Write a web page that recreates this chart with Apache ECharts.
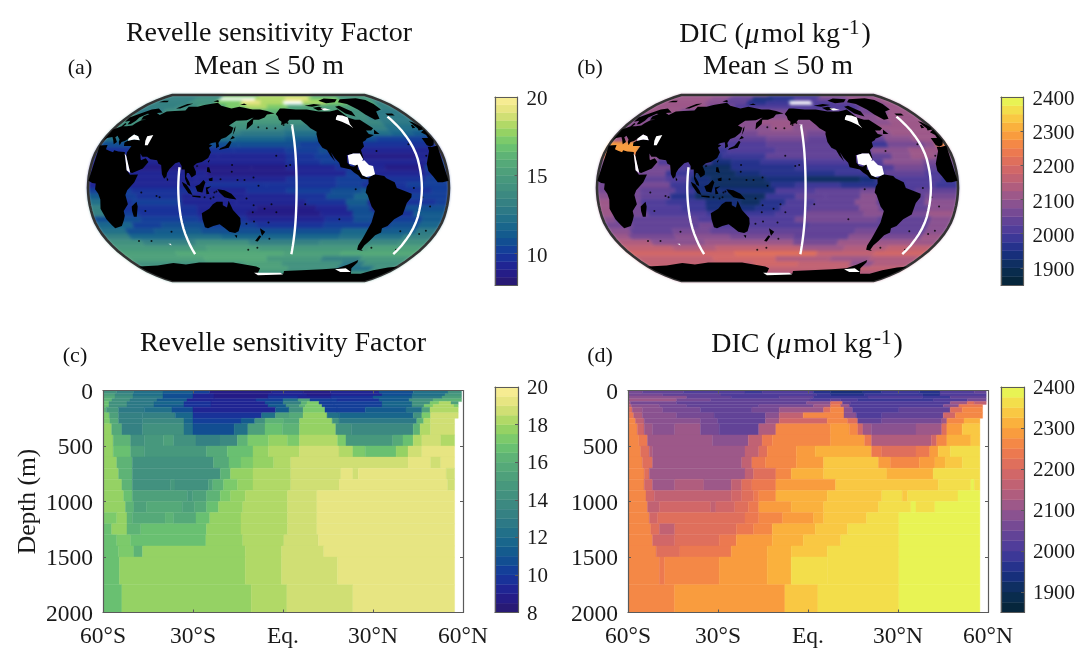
<!DOCTYPE html>
<html><head><meta charset="utf-8">
<style>html,body{margin:0;padding:0;background:#fff}#c{width:1076px;height:648px}</style>
<script src="https://cdn.jsdelivr.net/npm/echarts@6/dist/echarts.min.js"></script>
</head><body><div id="c"></div>
<script>
// ---------- DATA ----------
const latTicks = ['60°S','30°S','Eq.','30°N','60°N'];
const latTickValues = [-60,-30,0,30,60];
const depthTicks = [0,500,1000,1500,2000];
const revelleTicks = [10,15,20];
const revelleSectionTicks = [8,10,12,14,16,18,20];
const dicTicks = [1900,2000,2100,2200,2300,2400];
const depthLevels = [0,30,50,75,100,125,150,200,250,300,400,500,600,700,800,900,1000,1100,1200,1300,1400,1500,1750,2000];
// each row: latitude where a run ends, value of the run, ...
const revelleSection = [
[-55.4,14,-49.7,13,-40,12,-30,11,-24.4,10,-3.7,8.5,6.7,9,15.9,8.5,32,9,43.4,10.5,55,12,59.5,14],
[-56,15,-50,13.5,-40,12,-30,10.5,-23,9,-5,8.5,8,9,16,8.5,33,9,43,10.5,54,12,59.5,14.5],
[-56,15.5,-50,14,-40,12.5,-30,10.5,-23,9,-5,8.5,5,9.5,16,9,30,9.5,43,11,53,12.5,59.5,15],
[-57,16,-51,14,-42,12.5,-32,11,-24,9,-9,9,0,10,5,12,9,15,18,10,32,9.5,42,11,50,14,55,16,59.5,16],
[-58,16.5,-52,14,-43,12.5,-33,11.5,-24,9.5,-6,9,0,10.5,6,13,8,16,12,17,16,10,33,10,43,11.5,49,14,52,17,56,18,58.4,15],
[-58,16.5,-52,14,-43,12.5,-33,11,-24,9.5,-5,9,1,11,5.5,14,7.5,16,13,17,17,10,33,10,43,11.5,47,14,50,17,57,18,58.4,17],
[-58.9,16,-54.8,14.5,-46.2,12.5,-37,12,-30,10.5,-2.5,9,2,11,6.7,14,14,17,18,10,27.4,10,41,11,46.3,12,49,15,58.4,18],
[-57.9,17,-54.8,15,-46.8,13,-35.9,13,-30,11.5,-7.1,9.5,-2.5,12,2,15,6.7,15.5,14.7,17.5,18.7,12,43.4,11.5,46.3,14,49.2,17,58.4,18.5],
[-57.7,17,-54.8,15.5,-46.8,13,-33,13.5,-30,11.5,-14,10,-9.4,11,-6,14,0.3,16,5.5,15.5,16.4,17.5,18.7,14,44.6,12.5,46.9,16,49.2,18,57.2,18.5],
[-57.1,17.5,-53.7,15.5,-46.8,13,-33,14,-30,12,-16.3,10.5,-11.7,12,-6,15,-0.2,16.5,5.5,16,17.6,17.5,22.8,14,43.4,13.5,45.7,16,49.2,18,57.2,18.5],
[-56.6,17.5,-50.8,16,-46.2,14,-39.9,14.5,-36.4,15,-29,14,-21,13,-15.2,13.5,-11.7,16,-4.8,17,1.5,17.5,5.5,17,18.2,18,21,17,36.6,14.5,40,15.5,43.4,16.5,46.3,18,52.6,18.5,57.2,18],
[-56.6,17.5,-50.8,16.5,-46.2,15,-25.5,14.5,-18.6,15.5,-10,16.5,-4.8,17.5,5.5,18,18.7,18.5,23.3,18,27.4,17,37.7,16.5,41.7,17.5,46.3,18.5,57.2,19],
[-55.4,17.5,-50.2,16,-23.2,14,-18,15.5,-14,16.5,-10,17,-3.1,17.5,2.6,18,41.7,18.5,49.2,19,52.6,18.5,57.2,19],
[-54.8,17.5,-50.2,16,-20.9,14,-17.5,16,-10,17.5,2.6,18,19.3,18.5,23.3,19,25.1,18.5,54.4,19,57.2,18.5],
[-53.7,17.5,-50.2,16,-37.6,14,-36,14.5,-24.9,14,-23.4,15,-19.8,16,-15.2,17,-10,17.5,2.6,18,18.7,18.5,54.9,19,57.2,18.5],
[-53.1,17.5,-50.2,16.5,-31.8,15,-30.1,14.5,-25.5,15,-20.9,16,-17.5,17,-12.6,17.5,1.5,18,11.3,18.5,57.2,19],
[-52.5,17.5,-49.7,16,-45.6,15,-33.6,15.5,-29.5,15,-25.5,15.5,-21.5,16.5,-13.4,17.5,1.5,18,11.3,18.5,57.2,19],
[-55.4,17,-52,17.5,-50.2,16,-39.3,15.5,-36.4,16,-29,15.5,-24.4,16.5,-14,17.5,1.5,18,11.3,18.5,57.2,19],
[-57.1,16.5,-52,17.5,-47.4,16,-25.5,16.5,-14,17.5,1.5,18,11.3,18.5,57.2,19],
[-55.4,16.5,-50.8,17,-25.7,16.5,-13.4,17.5,0.3,18,11.8,18.5,57.2,19],
[-54.8,16.5,-49.7,17,-46.8,16,-12.6,17.5,-0.5,18,13.6,18.5,57.2,19],
[-54.5,16.5,-12.6,17.5,-0.5,18,18.2,18.5,57.2,19],
[-53.7,16.5,-10.6,17.5,1.3,18,23.3,18.5,57.2,19]
];
const dicSection = [
[-55.2,2075,-41.5,2050,-21,2025,-15.3,2000,1.8,2025,7.5,1975,18.3,1950,24.6,1975,37.1,2000,44,1975,55.4,2025,59.4,2050],
[-48.4,2075,-29,2050,2.9,2025,7.5,2000,18.9,1975,38.3,2000,44,1975,59.4,2025],
[-40.4,2100,-25.6,2050,-9.6,2025,1.8,2050,20,2000,38.3,2025,47.4,2000,59.4,2050],
[-43.8,2125,-32.4,2075,0.7,2050,7.5,2025,10.9,2050,16.6,2025,41.7,2000,53.1,2025,59.4,2075],
[-59.2,2150,-43.8,2075,-0.5,2050,7.5,2100,11.5,2225,14.3,2050,47.4,2025,53.1,2125,55.4,2225,59.4,2175],
[-58.9,2175,-49.5,2100,-40.4,2075,-16.4,2050,1.8,2075,7.5,2125,10.9,2250,13.8,2125,45.1,2025,50.3,2100,58.2,2250],
[-58.6,2225,-55.2,2125,-48.4,2100,-35.8,2075,-18.7,2050,-9.6,2075,5.2,2125,7.5,2225,12,2275,14.9,2100,30.3,2025,47.4,2050,51.4,2225,58.2,2275],
[-58.1,2250,-55.2,2150,-43.8,2100,-31.3,2075,-14.2,2050,-9.6,2100,-1.6,2175,12,2275,16.1,2100,24.6,2025,45.1,2050,49.1,2200,58.2,2275],
[-57.5,2275,-54.6,2175,-35.8,2100,-30.1,2075,-14.2,2050,-9.6,2125,6.4,2200,13.2,2275,16.6,2225,24.6,2050,44.6,2075,46.3,2125,52,2275,57.3,2325],
[-56.9,2275,-54.6,2200,-51.8,2125,-44.4,2100,-35.8,2125,-29.6,2075,-16.4,2050,-10.7,2150,7.5,2275,13.8,2300,16.6,2275,18.3,2200,21.2,2125,36,2100,44.6,2125,46.3,2225,51.4,2300,57.3,2350],
[-56.4,2275,-53.5,2250,-31.8,2125,-19.9,2100,-15.3,2175,-11.9,2250,7.5,2275,18.9,2300,21.2,2250,41.1,2150,42.9,2200,46.3,2275,54.3,2325,57.3,2350],
[-55.8,2275,-52.9,2225,-51.8,2150,-21,2125,-16.4,2175,-13.6,2225,-3.9,2275,2.4,2300,21.2,2325,24.6,2250,36,2225,40.6,2250,43.4,2300,47.4,2350,57.3,2375],
[-55.2,2275,-51.8,2225,-22.1,2125,-18.7,2175,-14.2,2250,-3.9,2275,5.2,2300,23.5,2350,27.5,2300,37.1,2275,42.3,2300,45.7,2325,51.4,2350,57.3,2375],
[-54.6,2275,-52.9,2225,-21,2125,-18.2,2175,-10.7,2225,-5.6,2275,5.2,2325,26.3,2350,41.7,2325,57.3,2375],
[-54.6,2275,-51.8,2200,-44.4,2125,-34.7,2150,-25.6,2125,-22.1,2175,-18.7,2225,-10.7,2250,9.2,2300,43.4,2350,54.3,2375,55.4,2400,57.3,2375],
[-54,2275,-51.2,2200,-25.6,2175,-22.1,2200,-18.2,2225,-16.4,2250,-10.7,2275,6.4,2325,24.6,2350,31.4,2375,33.2,2350,50,2375,57.3,2400],
[-53.5,2275,-49.5,2175,-32.4,2200,-30.7,2175,-24.4,2200,-19.9,2225,-16.4,2250,-5.6,2300,5.2,2325,23.5,2350,34.3,2375,36,2400,42.3,2375,57.3,2400],
[-52.9,2275,-50.1,2200,-21,2225,-16.4,2250,-8.5,2275,1.8,2300,5.2,2325,19.5,2350,30.3,2375,57.3,2400],
[-52.4,2275,-49.5,2225,-44.4,2175,-23.9,2225,-18.2,2250,-11.9,2275,2.4,2325,13.2,2350,30.3,2375,57.3,2400],
[-51.8,2275,-44.4,2200,-29.6,2225,-23.9,2250,-11.9,2300,-1.6,2325,10.9,2350,30.3,2375,57.3,2400],
[-50.6,2275,-42.7,2225,-25.6,2250,-13.6,2300,-5.6,2325,6.4,2350,30.3,2375,57.3,2400],
[-49.5,2275,-47.8,2250,-29.6,2275,-13.6,2300,-5.6,2325,6.4,2375,30.3,2375,57.3,2400],
[-44.5,2275,-7.7,2300,3.3,2350,30.3,2375,57.3,2400]
];
// surface maps: one row per 5 degree latitude band from 90N, each row: east end of a run (deg E, 2..362), value, ...
const mapBandTops = [90,85,80,75,70,65,60,55,50,45,40,35,30,25,20,15,10,5,0,-5,-10,-15,-20,-25,-30,-35,-40,-45,-50,-55,-60,-65,-70,-75,-80,-85];
const revelleSurface = [
[100,13,165,17,260,18,362,15],
[60,13,100,14,160,null,210,18,250,19,300,17,362,14],
[60,13,100,14,140,17,170,19,204,18,235,null,270,18,300,17,345,16,362,13],
[50,13,80,13.5,120,15,150,17,180,18,210,17,340,15,362,13],
[40,12.5,120,14,150,15,200,16,290,15,320,14,362,12.5],
[160,14,205,15,220,14,310,14,362,12.5],
[140,14,200,14.5,225,14,320,13.5,362,12.5],
[160,14,200,13.5,235,13,320,13,362,12],
[150,13,200,12.5,240,12,320,12,345,11.5,362,11],
[145,12,200,11.5,235,11,300,10.5,362,10],
[150,10.5,215,10.5,240,10,362,9.5],
[145,9.5,200,9.5,235,10,245,10.5,362,9],
[130,9,200,9,230,9.5,250,10,335,8.5,362,9],
[200,9,235,9.5,255,10,345,9,362,10],
[165,8.5,200,8.5,250,9,270,9.5,300,9,340,8.5,362,10],
[120,9,210,8.5,260,9,285,10,340,9,362,9.5],
[110,9,200,9,250,9.5,280,10,340,9.5,362,10],
[120,9,180,9.5,250,9.5,275,10,320,9.5,362,10],
[45,10,110,9.5,160,9,200,9.5,245,10,275,10.5,290,11,345,9.5,362,10],
[20,11,50,10,95,9.5,160,9,210,9,240,9.5,268,10.5,285,11.5,320,9.5,362,10],
[20,12,45,9.5,95,10,150,9,220,9,260,9.5,282,11,320,9,350,9.5,362,10],
[15,13,110,9.5,170,9,230,8.5,262,9,285,10.5,320,9,362,10.5],
[18,13,50,10,110,9.5,160,9,235,8.5,268,9,290,10.5,330,9.5,362,11],
[50,10.5,110,10,160,9.5,240,9,270,9.5,288,10.5,340,10,362,11],
[40,11.5,70,10,115,10.5,170,10,240,9.5,310,10,340,10.5,362,11.5],
[30,12,60,10.5,110,11,260,10.5,290,11.5,340,11,362,12.5],
[30,13,90,11.5,130,12,260,11.5,330,12,362,13],
[40,14,100,13,160,14,240,13,330,13.5,362,14],
[110,14.5,170,15,300,14.5,362,15],
[70,15,200,15.5,270,15,362,15.5],
[100,15,180,15.5,250,14.5,300,13,362,14.5],
[100,14,150,14.5,200,15,280,14,310,12.5,362,14],
[150,14,210,15,280,14,330,12,362,14],
[362,14],[362,14],[362,14]
];
const dicSurface = [
[100,2125,165,2075,260,2000,362,2100],
[70,2125,100,2100,140,2050,175,1950,210,1975,250,2025,300,2075,362,2125],
[70,2125,100,2100,135,2050,165,1975,200,2000,235,null,270,2025,300,2050,345,2100,362,2125],
[80,2125,120,2075,300,2025,340,2075,362,2125],
[50,2125,200,2075,290,2050,330,2075,362,2125],
[160,2075,205,2100,310,2100,362,2125],
[160,2100,205,2125,320,2100,362,2125],
[175,2100,200,2125,235,2100,362,2125],
[160,2075,215,2100,240,2075,310,2100,362,2125],
[30,2125,170,2050,215,2075,300,2050,330,2100,362,2125],
[37,2300,170,2025,240,2050,300,2000,340,2075,352,2100,362,2275],
[37,2300,130,2000,180,2025,250,2050,280,2025,320,2100,362,2125],
[37,2250,70,2100,125,1975,170,2000,300,2050,320,2100,345,2125,362,2100],
[60,2100,115,2025,135,1950,165,1975,210,2000,290,2025,330,2100,362,2075],
[80,2075,100,2025,135,1925,200,1975,265,2000,300,2025,330,2075,362,2050],
[70,2075,100,2000,140,1925,165,1950,240,1975,290,2000,330,2050,362,2025],
[70,2050,95,2025,115,1950,170,1925,210,1950,265,1925,280,1950,300,2000,345,2025,362,2000],
[75,2075,95,2000,115,1950,175,1925,200,1975,245,2000,300,1975,310,2000,340,2025,362,2000],
[45,2075,80,2050,100,2000,125,1950,180,1950,220,2025,265,2050,285,2075,320,2025,362,2050],
[20,2100,45,2075,75,2050,100,1975,170,1925,200,2000,230,2050,265,2050,282,2100,330,2050,362,2075],
[15,2125,45,2075,70,2025,110,2000,145,1950,165,1925,190,1975,220,2025,260,2050,282,2100,330,2050,362,2100],
[15,2125,45,2075,85,2025,110,2000,160,1950,185,1975,215,2025,265,2050,285,2100,335,2050,362,2100],
[15,2125,50,2075,110,2025,180,2000,210,2025,270,2075,290,2100,335,2075,362,2125],
[15,2100,100,2050,200,2025,285,2075,340,2050,362,2100],
[30,2075,100,2050,115,2075,215,2025,340,2050,362,2100],
[25,2100,70,2050,110,2075,265,2050,290,2075,340,2050,362,2100],
[20,2125,70,2075,130,2100,200,2075,260,2050,290,2100,340,2075,362,2125],
[40,2150,100,2100,200,2125,250,2075,362,2125],
[60,2175,110,2150,210,2175,260,2125,310,2150,362,2175],
[130,2200,230,2225,300,2175,362,2200],
[100,2175,180,2200,250,2150,300,2125,362,2150],
[150,2175,210,2200,280,2175,310,2100,362,2150],
[362,2175],[362,2150],[362,2150],[362,2150]
];
// land rings, longitudes in deg E from 2 to 362
const landRings = [
[[2,36.8],[10,37.3],[11,33.5],[15,32.3],[20,31],[20,32.8],[25,31.7],[32,31.2],[34,28],[37,21],[39,15.5],[43,11.5],[51,11.8],[48,5],[41,-2],[39,-6],[40.5,-14],[35,-20],[35,-24],[32.5,-28],[28,-33],[20,-34.8],[18,-32],[15,-27],[12,-18],[13.5,-10],[12,-5],[9,-1],[9.5,4],[6,4.3],[2,6.3]],
[[362,36.8],[355,35.5],[351,35.8],[350,32],[347,28],[343,21],[343,14.7],[347,10],[351,5],[356,5],[362,6.3]],
[[2,51],[8,54],[8,57],[11,56],[10,54],[14,54],[20,54.5],[21,57],[24,59.5],[30,60],[23,60],[21,63],[25,65.5],[22,65.8],[17.5,62],[18,59],[16,56],[13,55.5],[11,59],[6,58],[5,62],[12,66],[20,70],[28,71],[40,67],[33,66.5],[40,64.5],[44,68],[54,68.5],[68,69],[67,73],[73,73],[80,73],[87,75],[104,77.5],[113,74],[130,71],[140,73],[160,70],[170,70],[180,68.5],[190,66],[190,65],[180,65],[177,62],[170,60],[163,60],[163,56],[156.5,51],[156,57],[163,62],[155,59.5],[142,59],[135,54.5],[141,52.5],[140,48],[135,44],[130,42.5],[128,39],[129.5,36],[126.5,34.5],[126,37.5],[125,39.7],[121,39],[118,38],[122,37],[119,35],[122,31],[120,26],[114,22.5],[109,21.5],[106,19],[109,14],[109,11.5],[105,9],[102,13],[100,13],[99.5,10],[103,5],[104,1.5],[101,3],[98.5,8],[97.5,16],[94.5,16],[94,19],[91,22.5],[87,21.5],[82,16.5],[80,13],[79.8,10],[77.5,8],[75,12],[73,20],[70,21],[68,24],[61,25],[57,27],[52,27],[49,30],[50.5,26],[51.5,24],[56,25.8],[59.5,22.5],[55,17],[45,13],[43,13.5],[39,21],[35,28],[34.5,31],[36,36.5],[28,36.5],[26.5,39.5],[29,41],[35,42],[41.5,41.5],[37,45],[31,46.5],[28.5,43],[26,40.8],[23,40],[23,37],[20,40],[19,42],[13.5,45.5],[12.5,44],[16,41.5],[18,40],[16,38],[12,42],[9,44.3],[4,43.4],[3,42],[2,41.5]],
[[362,51],[355.5,48.5],[358.5,46],[358,43.5],[351,43.5],[351,37],[354,36],[358,37],[360,39],[362,41.5]],
[[354.5,50],[361,51],[362,53],[358,57.5],[355,58.5],[355,54.5],[356,52]],
[[350,52],[354,52.5],[354,55],[352,55]],
[[337,64],[346,64],[346,66],[337,66]],
[[315,60],[322,61],[328,68],[338,70],[340,76],[340,81],[330,83.5],[300,82],[290,78],[300,76],[306,70],[309,65]],
[[191.5,65.5],[198,71],[204,71],[220,70],[235,70],[250,68],[265,68],[272,69],[278,70],[282,64],[283,62],[290,60],[296,60],[304,52],[300,50],[294,50],[295,47],[300,46],[294.5,44],[290,43],[288,41.5],[284,40],[283.5,36],[279,33],[279.5,26],[279,25],[277.5,27],[277,30],[270,30],[263,28.5],[262.5,22],[265,19],[269,18.5],[270,21.5],[273,21.5],[272,16],[276,15],[276.5,11],[280.5,9],[283,8.5],[282,7.5],[280,7.5],[275,8],[272,11],[268,13.5],[265,16],[255,18],[254,22],[250,26],[247,31],[250,23],[246,28],[243.5,33],[239,35],[236,40],[236,47],[237,49],[231,52],[228,55],[222,60],[212,60],[208,60],[204,57],[197,55],[198,58],[195,60],[194,63]],
[[278,73],[285,74],[295,68],[294,63],[284,66]],
[[270,77],[285,78],[295,82],[275,83],[262,80]],
[[245,72],[255,73],[262,70],[250,69]],
[[235,74],[250,76],[260,75],[245,73]],
[[301,47],[307,47],[304,51]],
[[283,9],[288,12],[298,10.5],[300,8.5],[308,5],[310,0],[316,-2],[325,-5],[325,-8],[321,-13],[319,-23],[311.5,-27],[307,-33],[302,-35],[303,-38.5],[298,-41],[295,-46],[292,-50],[292,-54],[295,-55],[287,-54],[285,-50],[286,-44],[287,-38],[289,-30],[290,-20],[286,-16],[281,-6],[279,-4],[280,1],[282,4],[282,8]],
[[114,-22],[122,-18],[126,-14],[130,-12],[136,-12],[136,-15],[140,-17],[142,-11],[146,-19],[153,-26],[153,-31],[150,-37.5],[146,-39],[140,-38],[136,-35],[131,-31.5],[124,-33],[118,-35],[115,-34],[114,-27]],
[[145,-41],[148,-41],[147,-43.5]],
[[173,-35],[178.5,-38],[175,-41.5],[174,-39]],
[[172.5,-41],[174,-42],[170,-46.5],[167,-46],[171,-42]],
[[131,-1],[138,-2],[145,-5],[150,-10],[143,-9],[138,-8],[133,-4]],
[[109,1.5],[113,3],[117,7],[119,5],[117.5,1],[116,-4],[111,-3]],
[[95.5,5.5],[100,3],[104,-2],[106,-6],[102,-4.5],[97,2]],
[[105.5,-6.5],[114,-7],[114,-8.5],[106,-7.5]],
[[119.5,0.5],[125,1.5],[121,-1],[123,-5],[120,-5.5]],
[[120,18],[122,18],[124,13],[120,14]],
[[122,8],[126,9],[126,6],[123,6]],
[[120,23],[122,25],[121,22]],
[[130,33],[135,34],[140,35],[142,40],[140,41],[136,36.5],[131,34.5]],
[[140,42],[145,43.5],[142,45.5]],
[[142,46],[143.5,50],[143,54],[142,52]],
[[44,-16],[49.5,-12],[50,-16],[47,-25],[44,-25],[43.5,-20]],
[[80,9.5],[82,7],[80.5,6]],
[[109,20],[111,19],[109,18]],
[[12,78],[25,78],[22,80],[14,80]],
[[52,71],[58,71],[68,76.5],[60,76]],
[[95,79],[105,78],[100,81]],
[[140,75],[150,75],[145,76.5]],
[[2,-70],[30,-69],[55,-66.5],[70,-68],[90,-66],[110,-66],[135,-66],[165,-70],[170,-72],[165,-78],[205,-78],[205,-75],[230,-74],[260,-73],[280,-72],[290,-68],[298,-63.5],[300,-66],[300,-72],[310,-78],[325,-78],[335,-74],[350,-71],[362,-70],[362,-75],[362,-80],[362,-85],[362,-90],[2,-90],[2,-85],[2,-80],[2,-75]]
];
// areas without data
const noDataRings = [
[[266,60],[272,58],[278,55],[281,52],[280,56],[283,62],[278,64],[272,64.5],[268,62]],
[[264,21],[264,28.5],[270,30],[277,30],[279,25],[276,21.5],[270,19.5]],
[[272,22],[280,24],[284,20],[288,19],[289,12],[285,10.5],[280,9.5],[276,11],[274,15]],
[[28,43],[31,46.5],[37,45],[41.5,41.5],[35,42],[29,41]],
[[47,45],[53,46],[53,37],[50,37],[48,41]],
[[32.5,30],[35,28],[43,13],[39,15.5],[37,21],[34,27.5]],
[[160,-77],[200,-77],[205,-79],[165,-80]],
[[278,-73],[292,-72],[306,-76],[290,-76]],
[[68,-48.5],[71,-48.5],[70.5,-50]],
[[208,55.5],[212,55.5],[211,53.5]],
[[255,71],[262,71.5],[268,69.5],[258,69]]
];
const smallIslands = [[134,7.5],[145,14],[151,7],[158,7],[167,9],[172,2],[160,-9],[167,-15],[178,-18],[185,-14],[190,-21],[210,-17],[219,-14],[204,20],[200,19],[190,28],[145,20],[127,-8],[130,-3],[128,-4],[118,-8],[124,-9],[73,-8],[57,-20],[55,-4],[70,-7],[166,-21],[159,-31],[167,-29],[182,-30],[183,-44],[169,-52],[158,-54],[37,-46],[51,-46],[78,-38],[323,-37.5],[350,-37],[345,-40],[333,-54],[302,-52],[255,-27],[269,-1],[336,-8],[345,-16],[327,0],[335,16],[345,28],[332,38],[295,32],[190,52],[180,52],[170,53],[200,55],[205,57]];
const sectionLons = {I09:92, P16:210, A16:335};
const sectionLats = {I09:[18,15,10,5,0,-5,-10,-15,-20,-25,-30,-35,-40,-45,-50,-55,-58],
  P16:[54,50,45,40,35,30,25,20,15,10,5,0,-5,-10,-15,-20,-25,-30,-35,-40,-45,-50,-55,-58],
  A16:[63,60,55,50,45,40,35,30,25,20,15,10,5,0,-5,-10,-15,-20,-25,-30,-35,-40,-45,-50,-55,-58]};

// ---------- PALETTES ----------
const halineStops = ['#2a186c','#231f90','#15389c','#11558f','#1c6c8b','#327d84','#3f8d80','#4a9c7c','#58ad78','#6fc66e','#a2d660','#dfe27a','#fdef9a'];
const thermalPts = [[0,'#042333'],[.09,'#0b2f55'],[.18,'#1a2f86'],[.27,'#463a9c'],[.36,'#6a4696'],[.4545,'#94568e'],[.55,'#bb6078'],[.636,'#d96a62'],[.727,'#f27e4a'],[.818,'#fba63a'],[.909,'#f8d346'],[1,'#e3fd58']];
function lerp(stops,t){ return echarts.color.lerp(t,stops); }
function thermal(t){
  for(let i=1;i<thermalPts.length;i++){
    if(t<=thermalPts[i][0]){
      const a=thermalPts[i-1],b=thermalPts[i];
      return echarts.color.lerp((t-a[0])/(b[0]-a[0]),[a[1],b[1]]);
    }
  }
  return thermalPts[thermalPts.length-1][1];
}
const scales = {
  rev:{min:8,max:20,step:.5,off:.25,col:t=>lerp(halineStops,t)},
  dic:{min:1850,max:2400,step:25,off:-12.5,col:thermal}
};
function colorOf(s,v){
  const n=Math.round((s.max-s.min)/s.step);
  let i=Math.floor((v+s.off-s.min)/s.step);
  i=Math.max(0,Math.min(n-1,i));
  return s.col((i+.5)/n);
}

// ---------- PROJECTION ----------
const robX=[1,.9986,.9954,.99,.9822,.973,.96,.9427,.9216,.8962,.8679,.835,.7986,.7597,.7186,.6732,.6213,.5722,.5322];
const robY=[0,.062,.124,.186,.248,.31,.372,.434,.4958,.5571,.6176,.6769,.7346,.7903,.8435,.8936,.9394,.9761,1];
const CENTER=182;
const robinson={
  project(p){
    const a=Math.min(Math.abs(p[1]),90)/5,i=Math.min(17,Math.floor(a)),f=a-i;
    const X=robX[i]+(robX[i+1]-robX[i])*f,Y=robY[i]+(robY[i+1]-robY[i])*f;
    return [(p[0]-CENTER)/180*X,-Math.sign(p[1])*Y*.5072];
  },
  unproject(p){ return [p[0]*180+CENTER,-p[1]/.5072*90]; }
};
const edgeLats=[];for(let l=90;l>=-90;l-=5)edgeLats.push(l);
const globeRing=edgeLats.map(l=>[2,l]).concat(edgeLats.slice().reverse().map(l=>[362,l]));
const close=r=>r.concat([r[0]]);
echarts.registerMap('robinsonWorld',{type:'FeatureCollection',features:[
 {type:'Feature',properties:{name:'Globe'},geometry:{type:'Polygon',coordinates:[close(globeRing)]}},
 {type:'Feature',properties:{name:'Land'},geometry:{type:'MultiPolygon',coordinates:landRings.map(r=>[close(r)])}},
 {type:'Feature',properties:{name:'NoData'},geometry:{type:'MultiPolygon',coordinates:noDataRings.map(r=>[close(r)])}}
]});

// ---------- BUILD ----------
function surfaceItems(rows){
  const out=[];
  rows.forEach((row,k)=>{
    let w=2;const top=mapBandTops[k];
    for(let i=0;i<row.length;i+=2){
      if(row[i+1]!==null)out.push([w,top,row[i],top-5,row[i+1]]);
      w=row[i];
    }
  });
  return out;
}
function sectionItems(rows){
  const out=[];
  rows.forEach((row,k)=>{
    let s=-60;
    for(let i=0;i<row.length;i+=2){out.push([s,depthLevels[k],row[i],depthLevels[k+1],row[i+1]]);s=row[i];}
  });
  return out;
}
function barItems(s){
  const out=[];
  for(let v=s.min;v<s.max-1e-6;v+=s.step)out.push([0,v,1,v+s.step,v+s.step/2-s.off]);
  return out;
}
const rectRender=s=>(params,api)=>{
  const a=api.coord([api.value(0),api.value(1)]),b=api.coord([api.value(2),api.value(3)]);
  const c=colorOf(s,api.value(4));
  return {type:'rect',shape:{x:Math.min(a[0],b[0]),y:Math.min(a[1],b[1]),width:Math.abs(b[0]-a[0]),height:Math.abs(b[1]-a[1])},style:{fill:c,stroke:c,lineWidth:.4}};
};
const polyRender=s=>(params,api)=>{
  const x0=api.value(0),y0=api.value(1),x1=api.value(2),y1=api.value(3);
  const c=colorOf(s,api.value(4));
  const pts=[[x0,y0],[x1,y0],[x1,y1],[x0,y1]].map(p=>api.coord(p));
  return {type:'polygon',shape:{points:pts},style:{fill:c,stroke:c,lineWidth:.5}};
};
const SERIF='"Liberation Serif","Times New Roman",serif';
const GRAY='#5a5a5a';
const TOP=2; // layer for text, axes, land and tracks
const grids=[
 {left:103,top:390.5,width:360,height:222},
 {left:628,top:390.5,width:360,height:222},
 {left:495,top:97,width:22.5,height:188},
 {left:1001,top:97,width:22.5,height:188},
 {left:495,top:387,width:23,height:225.5},
 {left:1001,top:387,width:23,height:225.5}
].map(g=>Object.assign(g,{containLabel:false,outerBoundsMode:'none'}));
const xAxes=[],yAxes=[];
const line={show:true,onZero:false,lineStyle:{color:GRAY,width:1.2}};
const shifted=v=>'{a|'+v+'}';
const labelRich=(size,pad)=>({a:{fontFamily:SERIF,fontSize:size,color:'#1a1a1a',padding:[pad,0,0,0]}});
[0,1].forEach(g=>{
  const latLabel=v=>latTicks[latTickValues.indexOf(v)]||'';
  xAxes.push({gridIndex:g,type:'value',min:-60,max:60,interval:30,position:'bottom',zlevel:TOP,z:5,axisLine:line,splitLine:{show:false},
    axisTick:{show:true,inside:true,length:3,lineStyle:{color:GRAY}},
    axisLabel:{formatter:latLabel,fontFamily:SERIF,fontSize:23.5,color:'#1a1a1a',margin:12}});
  xAxes.push({gridIndex:g,type:'value',min:-60,max:60,interval:30,position:'top',zlevel:TOP,z:5,axisLine:line,splitLine:{show:false},
    axisTick:{show:true,inside:true,length:3,lineStyle:{color:GRAY}},axisLabel:{show:false}});
  yAxes.push({gridIndex:g,type:'value',inverse:true,min:0,max:2000,interval:500,position:'left',zlevel:TOP,z:5,axisLine:line,splitLine:{show:false},
    axisTick:{show:true,inside:true,length:3,lineStyle:{color:GRAY}},
    axisLabel:{formatter:shifted,rich:labelRich(23.5,4),margin:10},
    name:g===0?'Depth (m)':'',nameLocation:'middle',nameGap:62,nameTextStyle:{fontFamily:SERIF,fontSize:25.5,color:'#1a1a1a'}});
  yAxes.push({gridIndex:g,type:'value',inverse:true,min:0,max:2000,interval:500,position:'right',zlevel:TOP,z:5,axisLine:line,splitLine:{show:false},
    axisTick:{show:true,inside:true,length:3,lineStyle:{color:GRAY}},axisLabel:{show:false}});
});
[[revelleTicks,scales.rev,5],[dicTicks,scales.dic,5],[revelleSectionTicks,scales.rev,3],[dicTicks,scales.dic,3]].forEach((d,i)=>{
  const g=i+2,tk=d[0],s=d[1];
  [ 'bottom','top' ].forEach(p=>xAxes.push({gridIndex:g,type:'value',min:0,max:1,position:p,zlevel:TOP,z:5,axisLine:line,splitLine:{show:false},axisTick:{show:false},axisLabel:{show:false}}));
  yAxes.push({gridIndex:g,type:'value',min:s.min,max:s.max,position:'right',zlevel:TOP,z:5,axisLine:line,splitLine:{show:false},
    axisTick:{show:true,inside:true,length:3,customValues:tk,lineStyle:{color:GRAY}},
    axisLabel:{customValues:tk,formatter:shifted,rich:labelRich(21,d[2]),margin:9}});
  yAxes.push({gridIndex:g,type:'value',min:s.min,max:s.max,position:'left',zlevel:TOP,z:5,axisLine:line,splitLine:{show:false},axisTick:{show:false},axisLabel:{show:false}});
});
const geoBase=(left)=>({map:'robinsonWorld',projection:robinson,left:left,top:95,width:361,height:186,zlevel:TOP,z:5,silent:true,roam:false,
  itemStyle:{areaColor:'#000',borderWidth:0,borderColor:'transparent'},emphasis:{disabled:true},select:{disabled:true},tooltip:{show:false},label:{show:false},
  regions:[
    {name:'Globe',itemStyle:{areaColor:'rgba(0,0,0,0)',borderColor:'#333',borderWidth:2.6}},
    {name:'Land',itemStyle:{areaColor:'#000',borderWidth:0}},
    {name:'NoData',itemStyle:{areaColor:'#fff',borderWidth:0}}
  ]});
const trackData=Object.keys(sectionLons).map(k=>({coords:sectionLats[k].map(l=>[sectionLons[k],l])}));
const series=[];
[[revelleSurface,scales.rev],[dicSurface,scales.dic]].forEach((d,i)=>{
  series.push({type:'custom',coordinateSystem:'geo',geoIndex:i,zlevel:0,z:2,silent:true,renderItem:polyRender(d[1]),data:surfaceItems(d[0]),animation:false});
  series.push({type:'scatter',coordinateSystem:'geo',geoIndex:i,zlevel:TOP,z:6,silent:true,symbolSize:2,itemStyle:{color:'#000'},data:smallIslands,animation:false});
  series.push({type:'lines',coordinateSystem:'geo',geoIndex:i,zlevel:TOP,z:7,silent:true,polyline:true,lineStyle:{color:'#fff',width:2.4,opacity:1},data:trackData,animation:false});
});
const sec=(rows,s,g)=>({type:'custom',xAxisIndex:g*2,yAxisIndex:g*2,zlevel:1,z:2,silent:true,clip:true,renderItem:rectRender(s),data:sectionItems(rows),animation:false});
series.push(sec(revelleSection,scales.rev,0));
series.push(sec(dicSection,scales.dic,1));
const bar=(s,g)=>({type:'custom',xAxisIndex:g*2,yAxisIndex:g*2,zlevel:TOP,z:2,silent:true,renderItem:rectRender(s),data:barItems(s),animation:false});
series.push(bar(scales.rev,2),bar(scales.dic,3),bar(scales.rev,4),bar(scales.dic,5));

const richT={t:{fontFamily:SERIF,fontSize:28,color:'#111'},i:{fontFamily:SERIF,fontSize:29,fontStyle:'italic',color:'#111',padding:[0,2,0,1]},s:{fontFamily:SERIF,fontSize:21,color:'#111',padding:[0,2,13,2]}};
const ttl=(text,cx,top,size)=>({text:text,left:cx,top:top,zlevel:TOP,textAlign:'center',padding:0,textStyle:{fontFamily:SERIF,fontSize:size||28,fontWeight:'normal',color:'#111',rich:richT}});
const dicTitle='{t|DIC (}{i|μ}{t|mol kg}{s|-1}{t|)}';
const chart=echarts.init(document.getElementById('c'),null,{renderer:'canvas'});
chart.setOption({
  animation:false,
  title:[
    ttl('Revelle sensitivity Factor',269,20),
    ttl('Mean ≤ 50 m',269,53),
    ttl(dicTitle,775,18),
    ttl('Mean ≤ 50 m',778,53),
    ttl('Revelle sensitivity Factor',283,330),
    ttl(dicTitle,807,328),
    ttl('(a)',80,57,22),ttl('(b)',590,57,22),ttl('(c)',75,345,22),ttl('(d)',600,345,22)
  ],
  grid:grids,xAxis:xAxes,yAxis:yAxes,
  geo:[geoBase(88),geoBase(597)],
  series:series
});
// the reference is a soft scan: soften only the colour fields
function soften(){
  const f=chart.getDom().querySelector('canvas[data-zr-dom-id="zr_0"]');
  const s=chart.getDom().querySelector('canvas[data-zr-dom-id="zr_1"]');
  if(f)f.style.filter='blur(1.7px)';
  if(s)s.style.filter='blur(0.7px)';
}
soften();chart.on('finished',soften);
</script></body></html>
